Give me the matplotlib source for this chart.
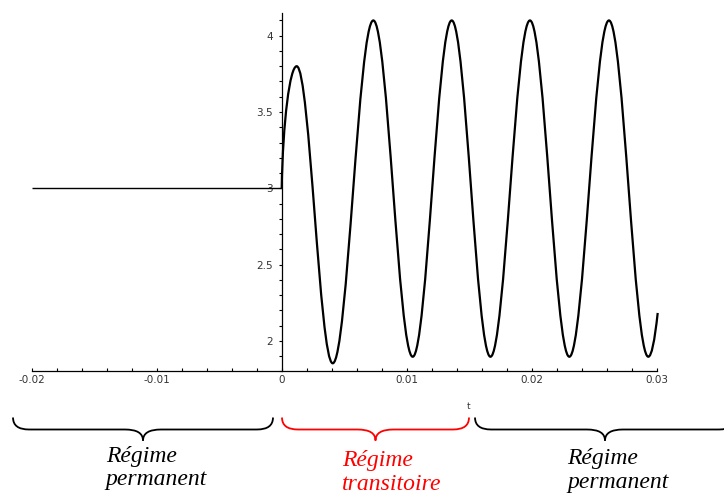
import matplotlib
matplotlib.use("Agg")
import matplotlib.pyplot as plt
from matplotlib.path import Path
from matplotlib.patches import PathPatch
from matplotlib.ticker import MultipleLocator

# values
flat_t = [-0.02, 0.0]
flat_y = [3.0, 3.0]

# start of the transient, then alternating peaks / troughs, then last point
key_t = [0.0, 0.0012, 0.00408, 0.00733, 0.01048, 0.0136, 0.01670,
         0.01986, 0.02301, 0.02618, 0.02933]
key_y = [3.0, 3.80, 1.853, 4.10, 1.896, 4.10, 1.896, 4.10, 1.896, 4.10, 1.896]
end_t = 0.03008
end_y = 2.183

x_ticks = [-0.02, -0.01, 0.0, 0.01, 0.02, 0.03]
x_labels = ["-0.02", "-0.01", "0", "0.01", "0.02", "0.03"]
y_ticks = [2.0, 2.5, 3.0, 3.5, 4.0]
y_labels = ["2", "2.5", "3", "3.5", "4"]

# brace spans in figure pixels (left end, right end, colour)
braces = [(13, 273, "black"), (282, 469, "red"), (475, 735, "black")]
labels = [
    (106, 461.7, 105, 485.0, "Régime", "permanent", "black"),
    (342, 466.0, 342, 490.0, "Régime", "transitoire", "red"),
    (567, 464.0, 567, 488.3, "Régime", "permanent", "black"),
]

W, H = 724, 494
fig = plt.figure(figsize=(W / 100, H / 100), dpi=100)

# main axes placed so that the data maps onto the reference pixels
ax = fig.add_axes([31.7 / W, (H - 371.4) / H, 625 / W, (371.4 - 12.8) / H])
ax.set_xlim(-0.02, 0.03)
ax.set_ylim(1.80, 4.15)
ax.patch.set_visible(False)

ax.spines["top"].set_visible(False)
ax.spines["right"].set_visible(False)
ax.spines["left"].set_position(("data", 0))
for s in ("left", "bottom"):
    ax.spines[s].set_linewidth(0.9)

ax.set_xticks(x_ticks)
ax.set_xticklabels(x_labels)
ax.set_yticks(y_ticks)
ax.set_yticklabels(y_labels)
ax.xaxis.set_minor_locator(MultipleLocator(0.002))
ax.yaxis.set_minor_locator(MultipleLocator(0.1))
ax.tick_params(axis="x", which="both", direction="in", length=2.5, width=0.8,
               pad=2.5, labelsize=7.5, labelcolor="#333333")
ax.tick_params(axis="y", which="both", direction="out", length=2.5, width=0.8,
               pad=4, labelsize=7.5, labelcolor="#333333")
for lab in ax.get_xticklabels() + ax.get_yticklabels():
    lab.set_family("DejaVu Sans")

# flat part before t = 0
ax.plot(flat_t, flat_y, color="black", lw=1.0, solid_capstyle="butt")

# oscillation: smooth arcs between the read extrema
k = 0.3634
verts = [(key_t[0], key_y[0])]
codes = [Path.MOVETO]
dt = key_t[1] - key_t[0]
dy = key_y[1] - key_y[0]
verts += [(key_t[0] + 0.08 * dt, key_y[0] + 0.55 * dy),
          (key_t[1] - 0.45 * dt, key_y[1]), (key_t[1], key_y[1])]
codes += [Path.CURVE4] * 3
for i in range(1, len(key_t) - 1):
    t0, y0, t1, y1 = key_t[i], key_y[i], key_t[i + 1], key_y[i + 1]
    dt = t1 - t0
    verts += [(t0 + k * dt, y0), (t1 - k * dt, y1), (t1, y1)]
    codes += [Path.CURVE4] * 3
verts += [((key_t[-1] + end_t) / 2, key_y[-1]), (end_t, end_y)]
codes += [Path.CURVE3] * 2
ax.add_patch(PathPatch(Path(verts, codes), fill=False, edgecolor="black",
                       lw=1.6, capstyle="butt", joinstyle="round",
                       clip_on=False))

# overlay in pixel coordinates for the axis name, braces and captions
ov = fig.add_axes([0, 0, 1, 1])
ov.set_xlim(0, W)
ov.set_ylim(H, 0)
ov.axis("off")
ov.patch.set_visible(False)

ov.text(469, 406.7, "t", fontsize=6.5, family="DejaVu Sans", color="#333333",
        ha="center", va="center")


def brace(x0, x1, color, y_top=417.5, y_body=429.5, y_tip=440.5, r=16, rt=18):
    xm = (x0 + x1) / 2
    v = [(x0, y_top), (x0, y_body), (x0 + r, y_body),
         (xm - rt, y_body), (xm, y_body), (xm, y_tip),
         (xm, y_body), (xm + rt, y_body),
         (x1 - r, y_body), (x1, y_body), (x1, y_top)]
    c = [Path.MOVETO, Path.CURVE3, Path.CURVE3,
         Path.LINETO, Path.CURVE3, Path.CURVE3,
         Path.CURVE3, Path.CURVE3,
         Path.LINETO, Path.CURVE3, Path.CURVE3]
    ov.add_patch(PathPatch(Path(v, c), fill=False, edgecolor=color, lw=1.3,
                           clip_on=False))


for x0, x1, col in braces:
    brace(x0, x1, col)

for xa, ya, xb, yb, l1, l2, col in labels:
    ov.text(xa, ya, l1, fontsize=17, family="Liberation Serif", style="italic",
            color=col, ha="left", va="baseline")
    ov.text(xb, yb, l2, fontsize=17, family="Liberation Serif", style="italic",
            color=col, ha="left", va="baseline")

fig.savefig("out.png", dpi=100)
